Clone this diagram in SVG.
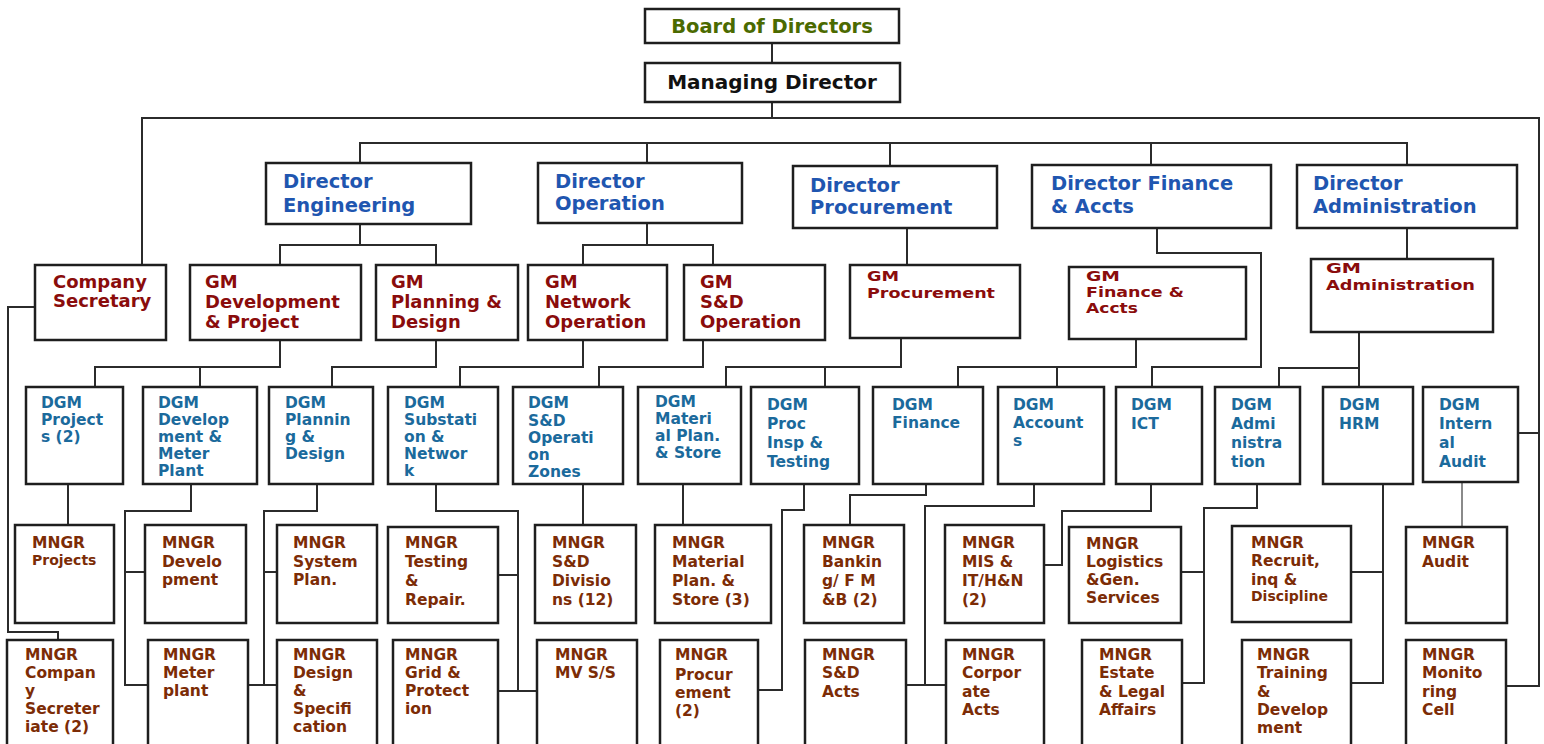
<svg xmlns="http://www.w3.org/2000/svg" width="1544" height="744" viewBox="0 0 1544 744">
  <style>
    .box { fill: #ffffff; stroke: #1e1e1e; stroke-width: 2.5; }
    .ln { fill: none; stroke: #2b2b2b; stroke-width: 2; }
    .ln-light { fill: none; stroke: #8a8a8a; stroke-width: 2; }
    text { font-family: "DejaVu Sans", "Liberation Sans", sans-serif; font-weight: bold; }
    .board { font-size: 19.5px; fill: #4b6a00; text-anchor: middle; }
    .md { font-size: 20px; fill: #111111; text-anchor: middle; }
    .dir { font-size: 19.5px; fill: #1f56b0; }
    .gm { font-size: 18px; fill: #8a0c0c; }
    .gm2 { font-size: 13.5px; fill: #8a0c0c; }
    .dgm { font-size: 15.5px; fill: #1b6a9c; }
    .mgr { font-size: 15.5px; fill: #7c2c06; }
    .small { font-size: 14px; }
  </style>

  <rect width="1544" height="744" fill="#ffffff"/>

  <!-- reporting lines -->
  <g id="connectors">
    <path class="ln" d="M772,43 V63"/>
    <path class="ln" d="M772,102 V118"/>
    <path class="ln" d="M142,265 V118 H1539 V686 H1506"/>
    <path class="ln" d="M1518,433 H1539"/>
    <path class="ln" d="M360,163 V143 H1407 V165"/>
    <path class="ln" d="M647,143 V163"/>
    <path class="ln" d="M890,143 V166"/>
    <path class="ln" d="M1151,143 V165"/>
    <!-- directors to general managers -->
    <path class="ln" d="M360,224 V245"/>
    <path class="ln" d="M280,265 V245 H436 V265"/>
    <path class="ln" d="M647,223 V245"/>
    <path class="ln" d="M583,265 V245 H713 V265"/>
    <path class="ln" d="M907,228 V265"/>
    <path class="ln" d="M1157,228 V253 H1261 V367 H1152 V387"/>
    <path class="ln" d="M1407,228 V259"/>
    <path class="ln" d="M35,307 H8 V632 H58 V640"/>
    <!-- general managers to deputies -->
    <path class="ln" d="M95,387 V367 H280 V340"/>
    <path class="ln" d="M200,367 V387"/>
    <path class="ln" d="M436,340 V367 H332 V387"/>
    <path class="ln" d="M583,340 V367 H460 V387"/>
    <path class="ln" d="M703,340 V367 H599 V387"/>
    <path class="ln" d="M901,338 V367 H726 V387"/>
    <path class="ln" d="M825,367 V387"/>
    <path class="ln" d="M1136,339 V367 H958 V387"/>
    <path class="ln" d="M1057,367 V387"/>
    <path class="ln" d="M1359,332 V387"/>
    <path class="ln" d="M1359,368 H1279 V387"/>
    <!-- deputies to managers -->
    <path class="ln" d="M68,484 V525"/>
    <path class="ln" d="M191,484 V511 H125 V685 H148"/>
    <path class="ln" d="M125,572 H145"/>
    <path class="ln" d="M317,484 V511 H264 V685"/>
    <path class="ln" d="M248,685 H277"/>
    <path class="ln" d="M264,572 H277"/>
    <path class="ln" d="M436,484 V511 H518 V691"/>
    <path class="ln" d="M498,575 H518"/>
    <path class="ln" d="M498,691 H537"/>
    <path class="ln" d="M583,484 V525"/>
    <path class="ln" d="M683,484 V525"/>
    <path class="ln" d="M804,484 V510 H782 V690 H758"/>
    <path class="ln" d="M926,484 V495 H850 V525"/>
    <path class="ln" d="M1034,484 V506 H925 V685"/>
    <path class="ln" d="M906,685 H946"/>
    <path class="ln" d="M1151,484 V511 H1062 V565 H1044"/>
    <path class="ln" d="M1257,484 V508 H1204 V683 H1182"/>
    <path class="ln" d="M1181,572 H1204"/>
    <path class="ln" d="M1383,484 V683 H1351"/>
    <path class="ln" d="M1351,572 H1383"/>
    <path class="ln-light" d="M1462,482 V527"/>
  </g>

  <!-- top management -->
  <g id="board">
    <rect class="box" x="645" y="9" width="254" height="34"/>
    <text class="board" x="772" y="33">Board of Directors</text>
  </g>
  <g id="managing-director">
    <rect class="box" x="645" y="63" width="255" height="39"/>
    <text class="md" x="772" y="89">Managing Director</text>
  </g>

  <!-- directors -->
  <g id="dir-engineering">
    <rect class="box" x="266" y="163" width="205" height="61"/>
    <text class="dir"><tspan x="283" y="188">Director</tspan><tspan x="283" y="212">Engineering</tspan></text>
  </g>
  <g id="dir-operation">
    <rect class="box" x="538" y="163" width="204" height="60"/>
    <text class="dir"><tspan x="555" y="188">Director</tspan><tspan x="555" y="210">Operation</tspan></text>
  </g>
  <g id="dir-procurement">
    <rect class="box" x="793" y="166" width="204" height="62"/>
    <text class="dir"><tspan x="810" y="192">Director</tspan><tspan x="810" y="214">Procurement</tspan></text>
  </g>
  <g id="dir-finance">
    <rect class="box" x="1032" y="165" width="239" height="63"/>
    <text class="dir"><tspan x="1051" y="190">Director Finance</tspan><tspan x="1051" y="213">&amp; Accts</tspan></text>
  </g>
  <g id="dir-administration">
    <rect class="box" x="1297" y="165" width="220" height="63"/>
    <text class="dir"><tspan x="1313" y="190">Director</tspan><tspan x="1313" y="213">Administration</tspan></text>
  </g>

  <!-- general managers -->
  <g id="company-secretary">
    <rect class="box" x="35" y="265" width="131" height="75"/>
    <text class="gm"><tspan x="53" y="288">Company</tspan><tspan x="53" y="307">Secretary</tspan></text>
  </g>
  <g id="gm-development">
    <rect class="box" x="190" y="265" width="171" height="75"/>
    <text class="gm"><tspan x="205" y="288">GM</tspan><tspan x="205" y="308">Development</tspan><tspan x="205" y="328">&amp; Project</tspan></text>
  </g>
  <g id="gm-planning">
    <rect class="box" x="376" y="265" width="142" height="75"/>
    <text class="gm"><tspan x="391" y="288">GM</tspan><tspan x="391" y="308">Planning &amp;</tspan><tspan x="391" y="328">Design</tspan></text>
  </g>
  <g id="gm-network">
    <rect class="box" x="528" y="265" width="139" height="75"/>
    <text class="gm"><tspan x="545" y="288">GM</tspan><tspan x="545" y="308">Network</tspan><tspan x="545" y="328">Operation</tspan></text>
  </g>
  <g id="gm-sd">
    <rect class="box" x="684" y="265" width="141" height="75"/>
    <text class="gm"><tspan x="700" y="288">GM</tspan><tspan x="700" y="308">S&amp;D</tspan><tspan x="700" y="328">Operation</tspan></text>
  </g>
  <g id="gm-procurement">
    <rect class="box" x="850" y="265" width="170" height="73"/>
    <text class="gm2"><tspan x="867" y="281" textLength="32" lengthAdjust="spacingAndGlyphs">GM</tspan><tspan x="867" y="298" textLength="128" lengthAdjust="spacingAndGlyphs">Procurement</tspan></text>
  </g>
  <g id="gm-finance">
    <rect class="box" x="1069" y="267" width="177" height="72"/>
    <text class="gm2"><tspan x="1086" y="281" textLength="34" lengthAdjust="spacingAndGlyphs">GM</tspan><tspan x="1086" y="297" textLength="98" lengthAdjust="spacingAndGlyphs">Finance &amp;</tspan><tspan x="1086" y="313" textLength="52" lengthAdjust="spacingAndGlyphs">Accts</tspan></text>
  </g>
  <g id="gm-administration">
    <rect class="box" x="1311" y="259" width="182" height="73"/>
    <text class="gm2"><tspan x="1326" y="273" textLength="35" lengthAdjust="spacingAndGlyphs">GM</tspan><tspan x="1326" y="290" textLength="149" lengthAdjust="spacingAndGlyphs">Administration</tspan></text>
  </g>

  <!-- deputy general managers -->
  <g id="dgm-projects">
    <rect class="box" x="26" y="387" width="97" height="97"/>
    <text class="dgm"><tspan x="41" y="408">DGM</tspan><tspan x="41" y="425">Project</tspan><tspan x="41" y="442">s (2)</tspan></text>
  </g>
  <g id="dgm-dev-meter">
    <rect class="box" x="143" y="387" width="114" height="97"/>
    <text class="dgm"><tspan x="158" y="408">DGM</tspan><tspan x="158" y="425">Develop</tspan><tspan x="158" y="442">ment &amp;</tspan><tspan x="158" y="459">Meter</tspan><tspan x="158" y="476">Plant</tspan></text>
  </g>
  <g id="dgm-planning">
    <rect class="box" x="269" y="387" width="104" height="97"/>
    <text class="dgm"><tspan x="285" y="408">DGM</tspan><tspan x="285" y="425">Plannin</tspan><tspan x="285" y="442">g &amp;</tspan><tspan x="285" y="459">Design</tspan></text>
  </g>
  <g id="dgm-substation">
    <rect class="box" x="388" y="387" width="110" height="97"/>
    <text class="dgm"><tspan x="404" y="408">DGM</tspan><tspan x="404" y="425">Substati</tspan><tspan x="404" y="442">on &amp;</tspan><tspan x="404" y="459">Networ</tspan><tspan x="404" y="476">k</tspan></text>
  </g>
  <g id="dgm-sd-zones">
    <rect class="box" x="513" y="387" width="110" height="97"/>
    <text class="dgm"><tspan x="528" y="408">DGM</tspan><tspan x="528" y="426">S&amp;D</tspan><tspan x="528" y="443">Operati</tspan><tspan x="528" y="460">on</tspan><tspan x="528" y="477">Zones</tspan></text>
  </g>
  <g id="dgm-material">
    <rect class="box" x="638" y="387" width="103" height="97"/>
    <text class="dgm"><tspan x="655" y="407">DGM</tspan><tspan x="655" y="424">Materi</tspan><tspan x="655" y="441">al Plan.</tspan><tspan x="655" y="458">&amp; Store</tspan></text>
  </g>
  <g id="dgm-proc-testing">
    <rect class="box" x="751" y="387" width="108" height="97"/>
    <text class="dgm"><tspan x="767" y="410">DGM</tspan><tspan x="767" y="429">Proc</tspan><tspan x="767" y="448">Insp &amp;</tspan><tspan x="767" y="467">Testing</tspan></text>
  </g>
  <g id="dgm-finance">
    <rect class="box" x="873" y="387" width="110" height="97"/>
    <text class="dgm"><tspan x="892" y="410">DGM</tspan><tspan x="892" y="428">Finance</tspan></text>
  </g>
  <g id="dgm-accounts">
    <rect class="box" x="998" y="387" width="106" height="97"/>
    <text class="dgm"><tspan x="1013" y="410">DGM</tspan><tspan x="1013" y="428">Account</tspan><tspan x="1013" y="446">s</tspan></text>
  </g>
  <g id="dgm-ict">
    <rect class="box" x="1116" y="387" width="86" height="97"/>
    <text class="dgm"><tspan x="1131" y="410">DGM</tspan><tspan x="1131" y="429">ICT</tspan></text>
  </g>
  <g id="dgm-administration">
    <rect class="box" x="1215" y="387" width="85" height="97"/>
    <text class="dgm"><tspan x="1231" y="410">DGM</tspan><tspan x="1231" y="429">Admi</tspan><tspan x="1231" y="448">nistra</tspan><tspan x="1231" y="467">tion</tspan></text>
  </g>
  <g id="dgm-hrm">
    <rect class="box" x="1323" y="387" width="90" height="97"/>
    <text class="dgm"><tspan x="1339" y="410">DGM</tspan><tspan x="1339" y="429">HRM</tspan></text>
  </g>
  <g id="dgm-internal-audit">
    <rect class="box" x="1423" y="387" width="95" height="95"/>
    <text class="dgm"><tspan x="1439" y="410">DGM</tspan><tspan x="1439" y="429">Intern</tspan><tspan x="1439" y="448">al</tspan><tspan x="1439" y="467">Audit</tspan></text>
  </g>

  <!-- managers, first row -->
  <g id="mngr-projects">
    <rect class="box" x="15" y="525" width="99" height="98"/>
    <text class="mgr"><tspan x="32" y="548">MNGR</tspan><tspan class="small" x="32" y="565">Projects</tspan></text>
  </g>
  <g id="mngr-development">
    <rect class="box" x="145" y="525" width="101" height="98"/>
    <text class="mgr"><tspan x="162" y="548">MNGR</tspan><tspan x="162" y="567">Develo</tspan><tspan x="162" y="585">pment</tspan></text>
  </g>
  <g id="mngr-system-plan">
    <rect class="box" x="277" y="525" width="100" height="98"/>
    <text class="mgr"><tspan x="293" y="548">MNGR</tspan><tspan x="293" y="567">System</tspan><tspan x="293" y="585">Plan.</tspan></text>
  </g>
  <g id="mngr-testing">
    <rect class="box" x="388" y="527" width="110" height="96"/>
    <text class="mgr"><tspan x="405" y="548">MNGR</tspan><tspan x="405" y="567">Testing</tspan><tspan x="405" y="586">&amp;</tspan><tspan x="405" y="605">Repair.</tspan></text>
  </g>
  <g id="mngr-sd-divisions">
    <rect class="box" x="535" y="525" width="101" height="98"/>
    <text class="mgr"><tspan x="552" y="548">MNGR</tspan><tspan x="552" y="567">S&amp;D</tspan><tspan x="552" y="586">Divisio</tspan><tspan x="552" y="605">ns (12)</tspan></text>
  </g>
  <g id="mngr-material">
    <rect class="box" x="655" y="525" width="116" height="98"/>
    <text class="mgr"><tspan x="672" y="548">MNGR</tspan><tspan x="672" y="567">Material</tspan><tspan x="672" y="586">Plan. &amp;</tspan><tspan x="672" y="605">Store (3)</tspan></text>
  </g>
  <g id="mngr-banking">
    <rect class="box" x="804" y="525" width="100" height="98"/>
    <text class="mgr"><tspan x="822" y="548">MNGR</tspan><tspan x="822" y="567">Bankin</tspan><tspan x="822" y="586">g/ F M</tspan><tspan x="822" y="605">&amp;B (2)</tspan></text>
  </g>
  <g id="mngr-mis">
    <rect class="box" x="945" y="525" width="99" height="98"/>
    <text class="mgr"><tspan x="962" y="548">MNGR</tspan><tspan x="962" y="567">MIS &amp;</tspan><tspan x="962" y="586">IT/H&amp;N</tspan><tspan x="962" y="605">(2)</tspan></text>
  </g>
  <g id="mngr-logistics">
    <rect class="box" x="1069" y="527" width="112" height="96"/>
    <text class="mgr"><tspan x="1086" y="549">MNGR</tspan><tspan x="1086" y="567">Logistics</tspan><tspan x="1086" y="585">&amp;Gen.</tspan><tspan x="1086" y="603">Services</tspan></text>
  </g>
  <g id="mngr-recruiting">
    <rect class="box" x="1232" y="526" width="119" height="96"/>
    <text class="mgr"><tspan x="1251" y="548">MNGR</tspan><tspan x="1251" y="566">Recruit,</tspan><tspan x="1251" y="585">inq &amp;</tspan><tspan class="small" x="1251" y="601">Discipline</tspan></text>
  </g>
  <g id="mngr-audit">
    <rect class="box" x="1406" y="527" width="101" height="96"/>
    <text class="mgr"><tspan x="1422" y="548">MNGR</tspan><tspan x="1422" y="567">Audit</tspan></text>
  </g>

  <!-- managers, second row (boxes run past the lower edge) -->
  <g id="mngr-company-secretariate">
    <rect class="box" x="7" y="640" width="106" height="120"/>
    <text class="mgr"><tspan x="25" y="660">MNGR</tspan><tspan x="25" y="678">Compan</tspan><tspan x="25" y="696">y</tspan><tspan x="25" y="714">Secreter</tspan><tspan x="25" y="732">iate (2)</tspan></text>
  </g>
  <g id="mngr-meter-plant">
    <rect class="box" x="148" y="640" width="100" height="120"/>
    <text class="mgr"><tspan x="163" y="660">MNGR</tspan><tspan x="163" y="678">Meter</tspan><tspan x="163" y="696">plant</tspan></text>
  </g>
  <g id="mngr-design">
    <rect class="box" x="277" y="640" width="100" height="120"/>
    <text class="mgr"><tspan x="293" y="660">MNGR</tspan><tspan x="293" y="678">Design</tspan><tspan x="293" y="696">&amp;</tspan><tspan x="293" y="714">Specifi</tspan><tspan x="293" y="732">cation</tspan></text>
  </g>
  <g id="mngr-grid">
    <rect class="box" x="393" y="640" width="105" height="120"/>
    <text class="mgr"><tspan x="405" y="660">MNGR</tspan><tspan x="405" y="678">Grid &amp;</tspan><tspan x="405" y="696">Protect</tspan><tspan x="405" y="714">ion</tspan></text>
  </g>
  <g id="mngr-mv-ss">
    <rect class="box" x="537" y="640" width="100" height="120"/>
    <text class="mgr"><tspan x="555" y="660">MNGR</tspan><tspan x="555" y="678">MV S/S</tspan></text>
  </g>
  <g id="mngr-procurement">
    <rect class="box" x="660" y="640" width="98" height="120"/>
    <text class="mgr"><tspan x="675" y="660">MNGR</tspan><tspan x="675" y="680">Procur</tspan><tspan x="675" y="698">ement</tspan><tspan x="675" y="716">(2)</tspan></text>
  </g>
  <g id="mngr-sd-acts">
    <rect class="box" x="805" y="640" width="101" height="120"/>
    <text class="mgr"><tspan x="822" y="660">MNGR</tspan><tspan x="822" y="678">S&amp;D</tspan><tspan x="822" y="697">Acts</tspan></text>
  </g>
  <g id="mngr-corporate-acts">
    <rect class="box" x="946" y="640" width="98" height="120"/>
    <text class="mgr"><tspan x="962" y="660">MNGR</tspan><tspan x="962" y="678">Corpor</tspan><tspan x="962" y="697">ate</tspan><tspan x="962" y="715">Acts</tspan></text>
  </g>
  <g id="mngr-estate">
    <rect class="box" x="1082" y="640" width="100" height="120"/>
    <text class="mgr"><tspan x="1099" y="660">MNGR</tspan><tspan x="1099" y="678">Estate</tspan><tspan x="1099" y="697">&amp; Legal</tspan><tspan x="1099" y="715">Affairs</tspan></text>
  </g>
  <g id="mngr-training">
    <rect class="box" x="1242" y="640" width="109" height="120"/>
    <text class="mgr"><tspan x="1257" y="660">MNGR</tspan><tspan x="1257" y="678">Training</tspan><tspan x="1257" y="697">&amp;</tspan><tspan x="1257" y="715">Develop</tspan><tspan x="1257" y="733">ment</tspan></text>
  </g>
  <g id="mngr-monitoring">
    <rect class="box" x="1406" y="640" width="100" height="120"/>
    <text class="mgr"><tspan x="1422" y="660">MNGR</tspan><tspan x="1422" y="678">Monito</tspan><tspan x="1422" y="697">ring</tspan><tspan x="1422" y="715">Cell</tspan></text>
  </g>
</svg>
